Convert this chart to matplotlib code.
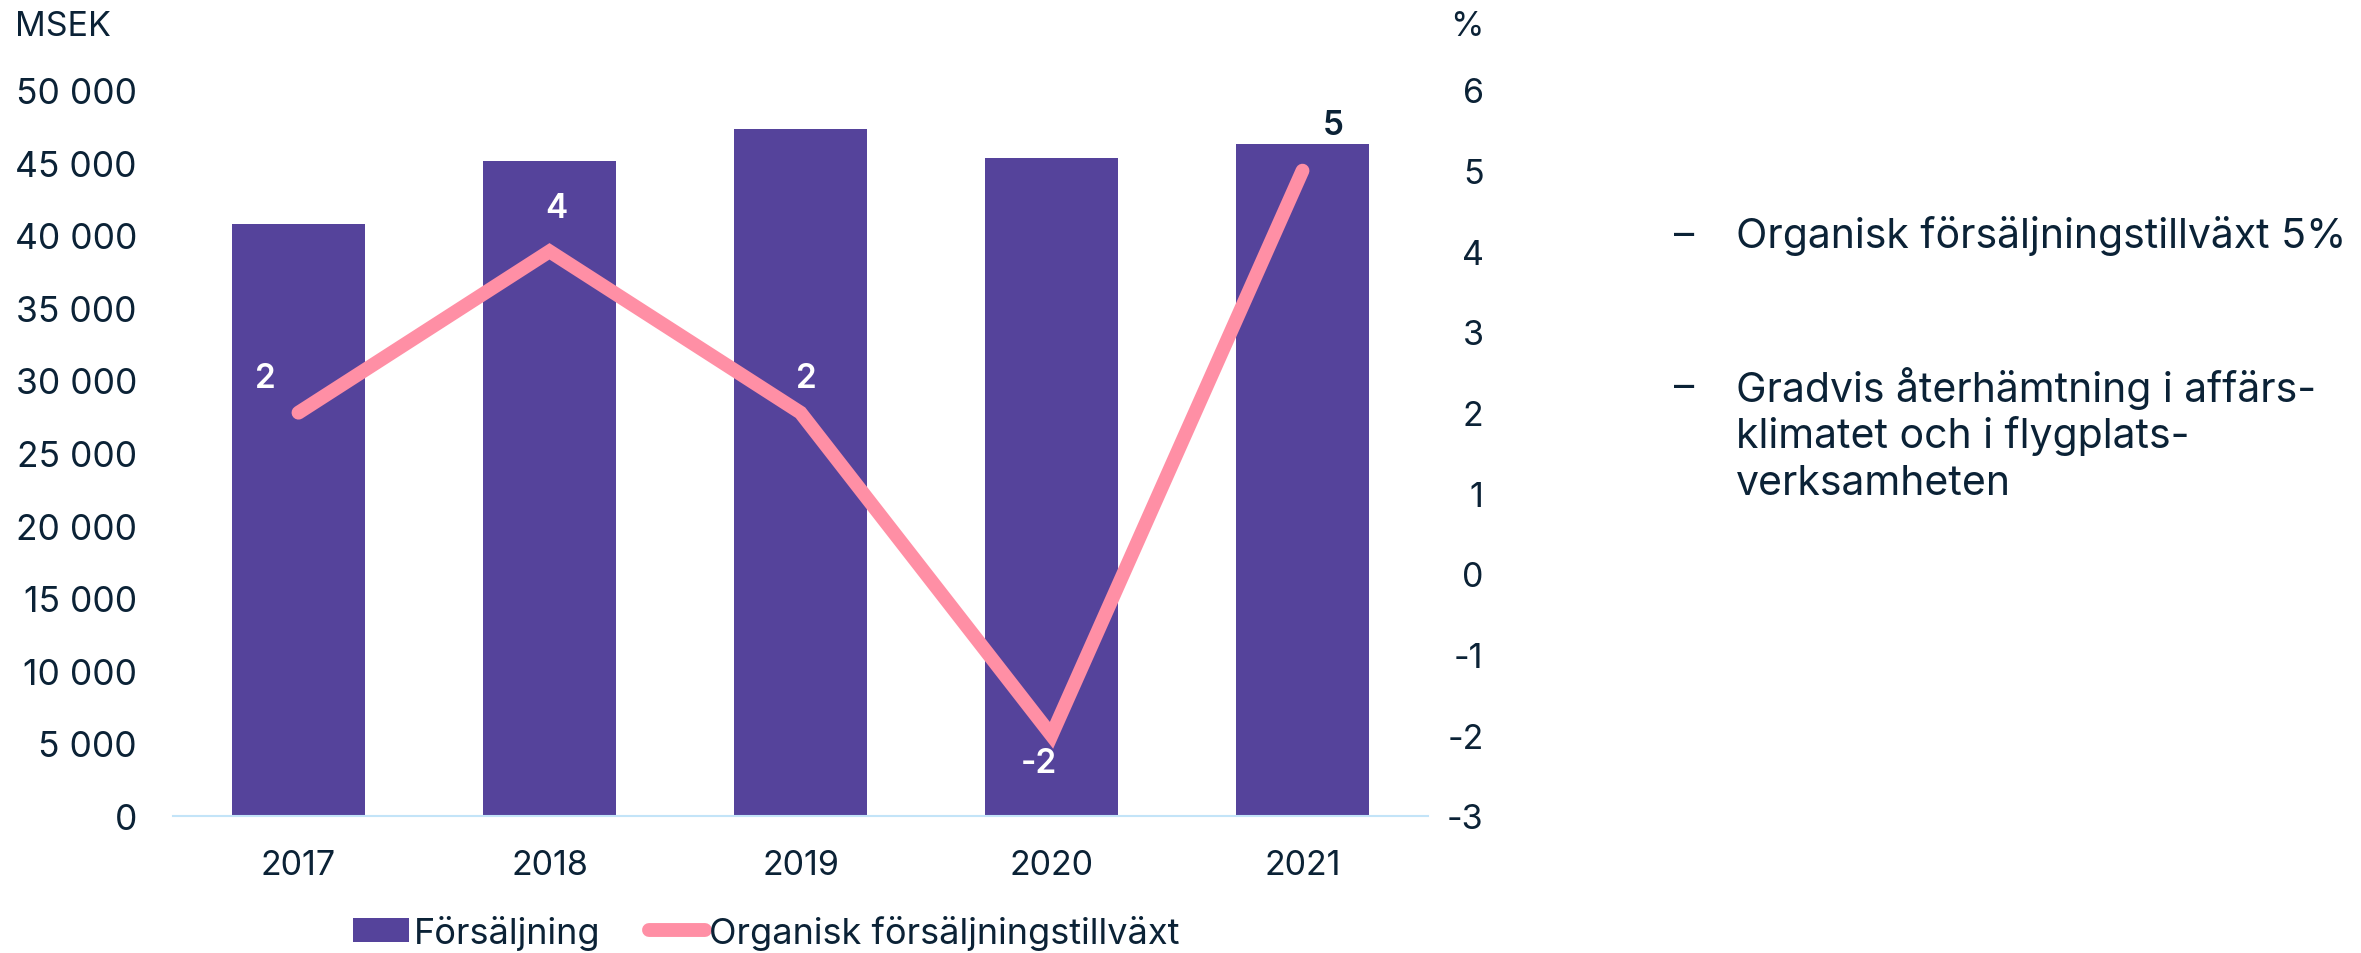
import matplotlib
matplotlib.use("Agg")
import matplotlib.pyplot as plt
from matplotlib.ticker import FuncFormatter

plt.rcParams['font.family'] = ['Inter', 'DejaVu Sans']
plt.rcParams['axes.unicode_minus'] = False

years = ['2017', '2018', '2019', '2020', '2021']
sales = [40770, 45120, 47300, 45330, 46260]      # MSEK
growth = [2, 4, 2, -2, 5]                        # organisk tillväxt, %
growth_labels = ['2', '4', '2', '-2', '5']
bullets = [
    ['Organisk försäljningstillväxt 5%'],
    ['Gradvis återhämtning i affärs-', 'klimatet och i flygplats-', 'verksamheten'],
]

navy = '#0b2236'
purple = '#55439b'
pink = '#ff8fa5'
axis_blue = '#c3e4f8'

W, H = 2361, 954
fig = plt.figure(figsize=(W / 100, H / 100), dpi=100)
ax = fig.add_axes([173 / W, 1 - 817 / H, (1428 - 173) / W, (817 - 91) / H])
ax2 = ax.twinx()

x = range(len(years))
ax.bar(x, sales, width=0.53, color=purple, label='Försäljning', zorder=2)
ax.set_xlim(-0.5, len(years) - 0.5)
ax.set_ylim(0, 50000)
ax.set_yticks(range(0, 50001, 5000))
ax.yaxis.set_major_formatter(FuncFormatter(lambda v, p: f"{v:,.0f}".replace(",", " ")))
ax.set_xticks(list(x))
ax.set_xticklabels(years)

ax2.plot(x, growth, color=pink, lw=10, solid_capstyle='round',
         solid_joinstyle='miter', label='Organisk försäljningstillväxt', zorder=3)
ax2.set_ylim(-3, 6)
ax2.set_yticks(range(-3, 7))

for a in (ax, ax2):
    for s in a.spines.values():
        s.set_visible(False)
ax.spines['bottom'].set_visible(True)
ax.spines['bottom'].set_color(axis_blue)
ax.spines['bottom'].set_linewidth(1.5)

ax.tick_params(axis='y', length=0, pad=26, labelsize=25.5, labelcolor=navy)
ax.tick_params(axis='x', length=0, pad=24, labelsize=24.5, labelcolor=navy)
ax2.tick_params(axis='y', length=0, pad=40, labelsize=24.5, labelcolor=navy)
for t in ax2.get_yticklabels():
    t.set_horizontalalignment('right')

# data labels for the growth line
offsets = [(-24, 25), (5, 31), (4, 25), (-9, -20), (22, 33)]
colors = ['white', 'white', 'white', 'white', navy]
for i, (g, lab) in enumerate(zip(growth, growth_labels)):
    ax2.annotate(lab, (i, g), xytext=offsets[i], textcoords='offset points',
                 ha='center', va='center', fontsize=24, fontweight='semibold',
                 color=colors[i], zorder=4)

fig.text(15 / W, 1 - 27 / H, 'MSEK', ha='left', va='center', fontsize=24.5, color=navy)
fig.text(1484 / W, 1 - 27 / H, '%', ha='right', va='center', fontsize=24.5, color=navy)

# bullet text to the right
line_y = [[236], [389, 436, 484]]
for lines, ys in zip(bullets, line_y):
    fig.text(1674 / W, 1 - ys[0] / H, '–', ha='left', va='center', fontsize=29, color=navy)
    for ln, yy in zip(lines, ys):
        fig.text(1736 / W, 1 - yy / H, ln, ha='left', va='center', fontsize=29.5, color=navy)

h1, l1 = ax.get_legend_handles_labels()
h2, l2 = ax2.get_legend_handles_labels()
fig.legend(h1 + h2, l1 + l2, loc='center', bbox_to_anchor=(0.3246, 0.022), ncol=2,
           frameon=False, fontsize=26, labelcolor=navy, handlelength=1.55,
           handleheight=0.62, handletextpad=0.12, columnspacing=1.35)

fig.savefig('out.png', dpi=100)
